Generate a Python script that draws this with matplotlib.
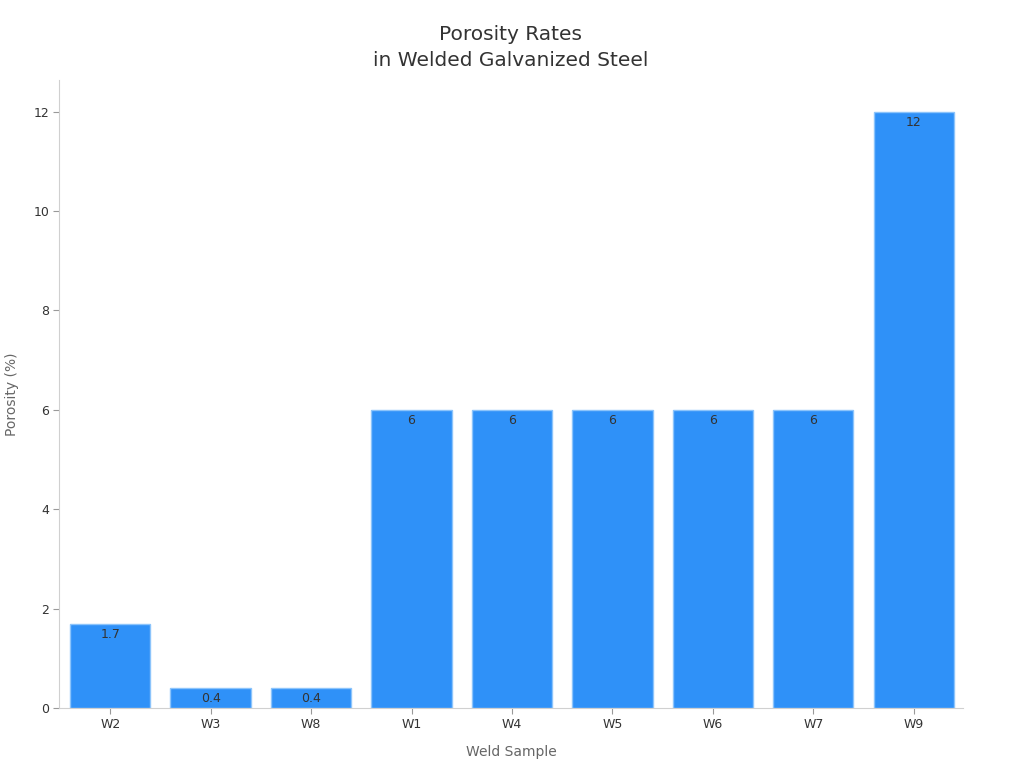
import matplotlib.pyplot as plt

samples = ["W2", "W3", "W8", "W1", "W4", "W5", "W6", "W7", "W9"]
porosity = [1.7, 0.4, 0.4, 6, 6, 6, 6, 6, 12]
labels = ["1.7", "0.4", "0.4", "6", "6", "6", "6", "6", "12"]

fig = plt.figure(figsize=(10.24, 7.68), dpi=100)
ax = fig.add_axes([0.0576, 0.078, 0.8828, 0.818])

x = range(len(samples))
bars = ax.bar(x, porosity, width=0.8, color="#2f91f8", edgecolor="#8cc4fb", linewidth=1)

# value labels just inside the top of each bar
for rect, lab in zip(bars, labels):
    ax.annotate(lab, (rect.get_x() + rect.get_width() / 2, rect.get_height()),
                xytext=(0, -3), textcoords="offset points", ha="center", va="top",
                fontsize=9, color="#333333")

ax.set_xticks(list(x))
ax.set_xticklabels(samples)
ax.set_xlim(-0.51, 8.49)
ax.set_ylim(0, 12.64)
ax.set_yticks([0, 2, 4, 6, 8, 10, 12])

for s in ["top", "right"]:
    ax.spines[s].set_visible(False)
for s in ["left", "bottom"]:
    ax.spines[s].set_color("#d0d0d0")
ax.tick_params(colors="#333333", labelsize=9, length=4, pad=3)
ax.tick_params(axis="both", color="#999999")

ax.set_xlabel("Weld Sample", fontsize=10, color="#666666", labelpad=10)
ax.set_ylabel("Porosity (%)", fontsize=10, color="#666666", labelpad=10)
ax.set_title("Porosity Rates\nin Welded Galvanized Steel", fontsize=14.5, color="#333333",
             pad=10, linespacing=1.45)

fig.savefig("out.png", dpi=100)
